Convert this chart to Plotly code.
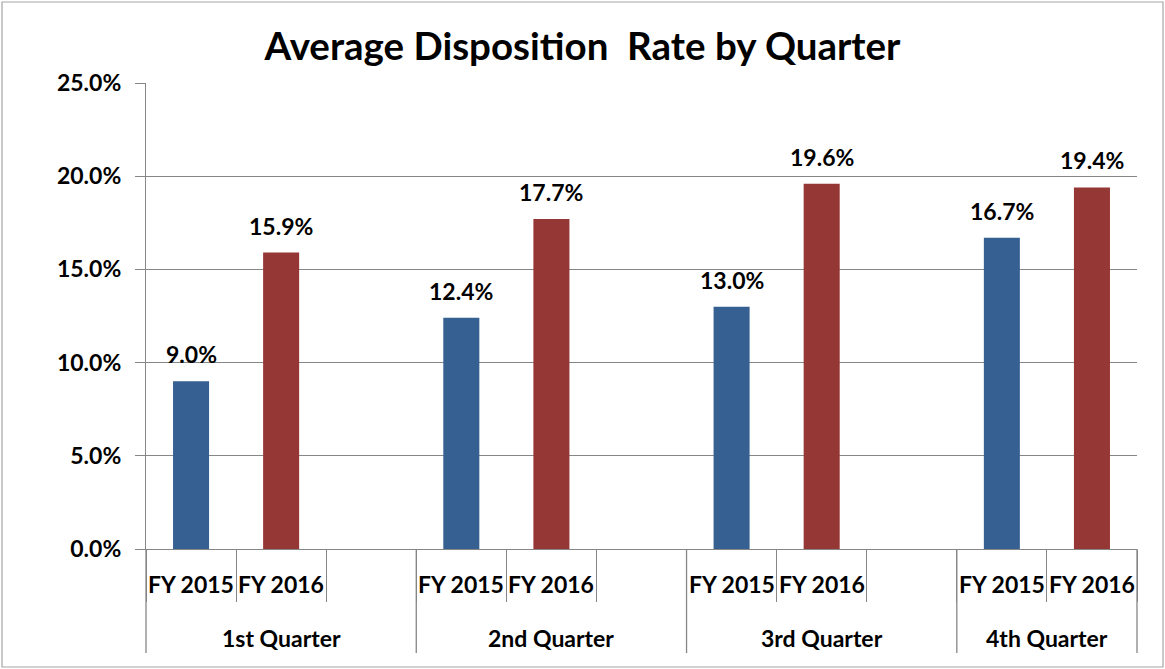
import plotly.graph_objects as go

# ---------------- data ----------------
quarters = ["1st Quarter", "2nd Quarter", "3rd Quarter", "4th Quarter"]
years = ["FY 2015", "FY 2016"]
fy2015 = [9.0, 12.4, 13.0, 16.7]
fy2016 = [15.9, 17.7, 19.6, 19.4]
y_ticks = [0, 5, 10, 15, 20, 25]
title_text = "Average Disposition\u00a0 Rate by Quarter"

# ---------------- style ----------------
FONT = "Lato, Carlito, Calibri, 'Open Sans', sans-serif"
FS = 23
BLUE = "#376092"
RED = "#953735"
GRID = "#868686"
W, H = 1165, 669
ML, MR, MT, MB = 146, 28, 83, 120
PW, PH = W - ML - MR, H - MT - MB

# build slots: each quarter has FY2015, FY2016 and a gap slot (except the last)
slot_ids = []
slot_labels = []
group_ranges = []
for qi, q in enumerate(quarters):
    start = len(slot_ids)
    for y in years:
        slot_ids.append(f"{q}|{y}")
        slot_labels.append(y)
    if qi < len(quarters) - 1:
        slot_ids.append(f"{q}|gap")
        slot_labels.append("")
    group_ranges.append((start, len(slot_ids) - 1))
n_slots = len(slot_ids)

def idx_to_paper(v):
    return (v + 0.5) / n_slots

fig = go.Figure()
series = [(years[0], fy2015, BLUE), (years[1], fy2016, RED)]
for name, vals, color in series:
    fig.add_trace(go.Bar(
        x=[f"{q}|{name}" for q in quarters],
        y=vals,
        name=name,
        width=0.4,
        marker=dict(color=color, line=dict(width=0)),
        showlegend=False,
        hoverinfo="skip",
    ))

label_font = dict(family=FONT, size=FS, color="#000000", weight="bold")
annotations = []
# data labels
for name, vals, color in series:
    for q, v in zip(quarters, vals):
        annotations.append(dict(
            x=f"{q}|{name}", y=v, xref="x", yref="y",
            text=f"{v:.1f}%", showarrow=False,
            xanchor="center", yanchor="middle", yshift=27,
            font=label_font,
        ))
# FY labels under axis
for sid, lab in zip(slot_ids, slot_labels):
    if lab:
        annotations.append(dict(
            x=sid, y=0, xref="x", yref="paper",
            text=lab, showarrow=False,
            xanchor="center", yanchor="middle", yshift=-35,
            font=label_font,
        ))
# quarter labels
for q, (s, e) in zip(quarters, group_ranges):
    annotations.append(dict(
        x=idx_to_paper((s + e) / 2), y=0, xref="paper", yref="paper",
        text=q, showarrow=False,
        xanchor="center", yanchor="middle", yshift=-89,
        font=label_font,
    ))

shapes = []
# group dividers extending down through both label rows
bounds = [group_ranges[0][0] - 0.5] + [e + 0.5 for (s, e) in group_ranges]
for b in bounds:
    shapes.append(dict(
        type="line", xref="paper", yref="paper",
        x0=idx_to_paper(b), x1=idx_to_paper(b), y0=0, y1=-104 / PH,
        line=dict(color=GRID, width=1.3),
    ))
# outer chart border
shapes.append(dict(
    type="rect", xref="paper", yref="paper",
    x0=(2 - ML) / PW, x1=(W - 2 - ML) / PW,
    y0=-(MB - 2) / PH, y1=1 + (MT - 2) / PH,
    line=dict(color="#a6a6a6", width=1.2), fillcolor="rgba(0,0,0,0)",
))

fig.update_layout(
    width=W, height=H,
    margin=dict(l=ML, r=MR, t=MT, b=MB, pad=0),
    paper_bgcolor="#ffffff", plot_bgcolor="#ffffff",
    barmode="overlay",
    title=dict(
        text=title_text, x=0.5, xref="container", xanchor="center",
        y=1 - 47 / H, yref="container", yanchor="middle",
        font=dict(family=FONT, size=38.5, color="#000000", weight="bold"),
    ),
    annotations=annotations,
    shapes=shapes,
    xaxis=dict(
        type="category", categoryorder="array", categoryarray=slot_ids,
        range=[-0.5, n_slots - 0.5],
        showticklabels=False, ticks="outside", tickson="boundaries",
        ticklen=52, tickcolor=GRID, tickwidth=1.3,
        showline=True, linecolor=GRID, linewidth=1.3,
        showgrid=False, zeroline=False, fixedrange=True,
    ),
    yaxis=dict(
        range=[0, 25], tickvals=y_ticks,
        ticktext=[f"{v:.1f}%" for v in y_ticks],
        ticks="outside", ticklen=10, tickcolor=GRID, tickwidth=1.3,
        ticklabelstandoff=9,
        showline=True, linecolor=GRID, linewidth=1.3,
        showgrid=True, gridcolor=GRID, gridwidth=1.3,
        zeroline=False, fixedrange=True,
        tickfont=label_font,
    ),
)

fig.write_html(
    "out.html",
    config={"displayModeBar": False},
    post_script="document.body.style.margin='0';document.body.style.padding='0';",
)
